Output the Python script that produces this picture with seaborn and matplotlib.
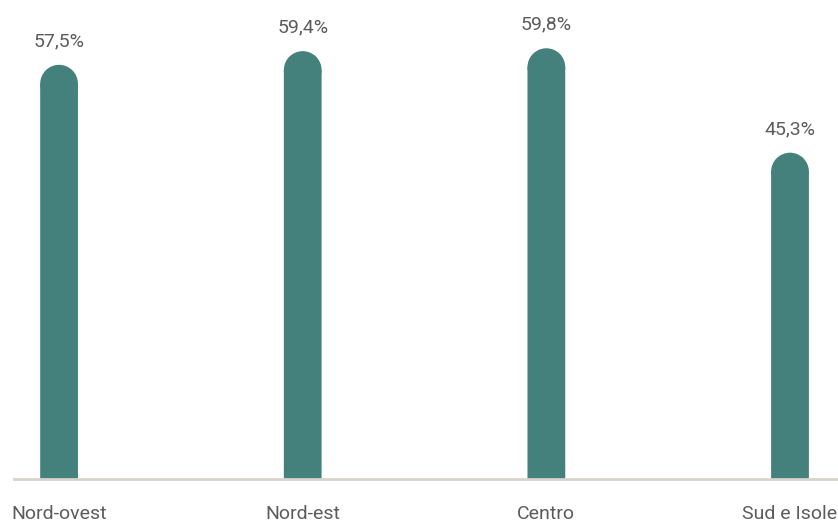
import matplotlib
matplotlib.use("Agg")
import matplotlib.pyplot as plt
import matplotlib.patches as mpatches
import pandas as pd
import seaborn as sns

# Values
regions = ["Nord-ovest", "Nord-est", "Centro", "Sud e Isole"]
shares = [57.5, 59.4, 59.8, 45.3]
labels = ["57,5%", "59,4%", "59,8%", "45,3%"]

BAR_COLOR = "#44807c"
TEXT_COLOR = "#5c5c5c"
BASE_COLOR = "#d8d4cb"

sns.set_style("white")
plt.rcParams["font.family"] = ["Roboto", "DejaVu Sans"]

df = pd.DataFrame({"region": regions, "share": shares})

W, H, DPI = 838, 522, 100
fig = plt.figure(figsize=(W / DPI, H / DPI), dpi=DPI)
ax_h_px = 479
ax = fig.add_axes([14 / W, 43 / H, 824 / W, ax_h_px / H])

sns.barplot(data=df, x="region", y="share", color=BAR_COLOR, width=0.155,
            saturation=1, linewidth=0, ax=ax)
ax.set_xlim(-0.185, 3.197)
ymax = 66.5
ax.set_ylim(0, ymax)

# turn the flat top of each bar into a half circle
px_per_unit = ax_h_px / ymax
for p in list(ax.patches):
    x0, w, h = p.get_x(), p.get_width(), p.get_height()
    w_px = w * (824 / 3.382)
    r = (w_px / 2) / px_per_unit
    p.set_height(h - r)
    p.set_snap(False)
    ax.add_patch(mpatches.Ellipse((x0 + w / 2, h - r), w, 2 * r,
                                  facecolor=BAR_COLOR, edgecolor="none",
                                  linewidth=0))

for i, (v, lab) in enumerate(zip(shares, labels)):
    ax.annotate(lab, (i, v), xytext=(0, 13.5), textcoords="offset points",
                ha="center", va="baseline", fontsize=14, color=TEXT_COLOR)

sns.despine(ax=ax, left=True, top=True, right=True)
ax.spines["bottom"].set_color(BASE_COLOR)
ax.spines["bottom"].set_linewidth(2)
ax.set_yticks([])
ax.set_xlabel("")
ax.set_ylabel("")
ax.tick_params(axis="x", length=0, pad=19, labelsize=14, labelcolor=TEXT_COLOR)

fig.savefig("out.png", dpi=DPI)
